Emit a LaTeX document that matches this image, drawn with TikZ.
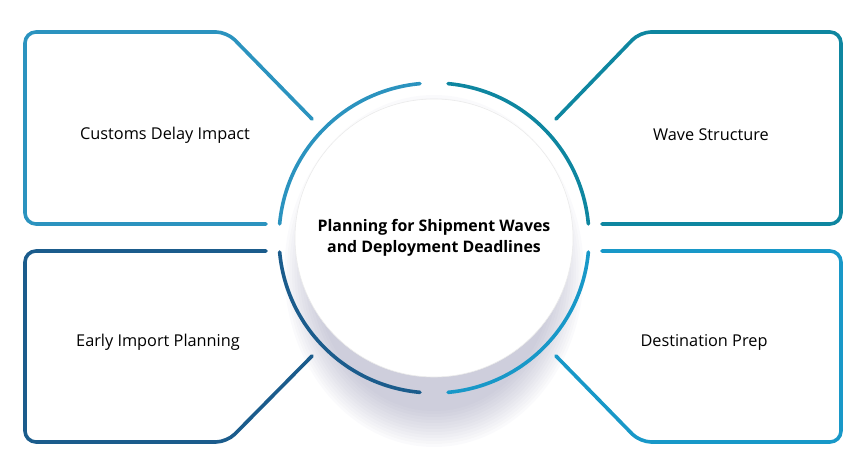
\documentclass[tikz,border=0pt]{standalone}
\usepackage{fontspec}
\setmainfont{Open Sans}
\definecolor{ctl}{HTML}{2B93BF}
\definecolor{ctr}{HTML}{0E86A0}
\definecolor{cbl}{HTML}{1B5C8C}
\definecolor{cbr}{HTML}{1898C8}
\definecolor{shd}{RGB}{110,110,150}
\begin{document}
\begin{tikzpicture}[x=1pt,y=1pt,
  frame/.style={line width=3.6pt, line cap=round, line join=round, rounded corners=11pt},
  ring/.style={line width=3.6pt, line cap=round},
  lbl/.style={font=\fontsize{16.3}{19}\selectfont, text=black},
  centertext/.style={font=\fontsize{15.9}{21}\selectfont\bfseries, text=black, align=center}]
\useasboundingbox (0,0) rectangle (868,476);
\coordinate (c) at (434,238);
% shadow
\foreach \r in {140,143,...,176}
  \fill[shd, opacity=0.03] (434,205) ellipse [x radius={0.85*\r}, y radius=\r];
\fill[white] (c) circle[radius=139];
\draw[black!8, line width=0.6pt] (c) circle[radius=139];
% ring arcs
\draw[ring, ctl] ([shift={(95.2:155)}]c) arc[start angle=95.2, end angle=174.8, radius=155];
\draw[ring, ctr] ([shift={(5.2:155)}]c) arc[start angle=5.2, end angle=84.8, radius=155];
\draw[ring, cbl] ([shift={(185.2:155)}]c) arc[start angle=185.2, end angle=264.8, radius=155];
\draw[ring, cbr] ([shift={(275.2:155)}]c) arc[start angle=275.2, end angle=354.8, radius=155];
% frames
\draw[frame, ctl] (266,252) -- (25,252) -- (25,444) -- (227,444) -- (312,357);
\draw[frame, ctr] (602,252) -- (841,252) -- (841,444) -- (640,444) -- (556,357);
\draw[frame, cbl] (266,225) -- (25,225) -- (25,34) -- (227,34) -- (312,120);
\draw[frame, cbr] (602,225) -- (841,225) -- (841,34) -- (640,34) -- (556,120);
% texts
\node[lbl] (t1) at (165,341) {Customs Delay Impact};
\node[lbl] (t2) at (711,341) {Wave Structure};
\node[lbl] (t3) at (158,134) {Early Import Planning};
\node[lbl] (t4) at (704,134) {Destination Prep};
\node[centertext] (t0) at (434,238) {Planning for Shipment Waves\\and Deployment Deadlines};
\end{tikzpicture}
\end{document}
